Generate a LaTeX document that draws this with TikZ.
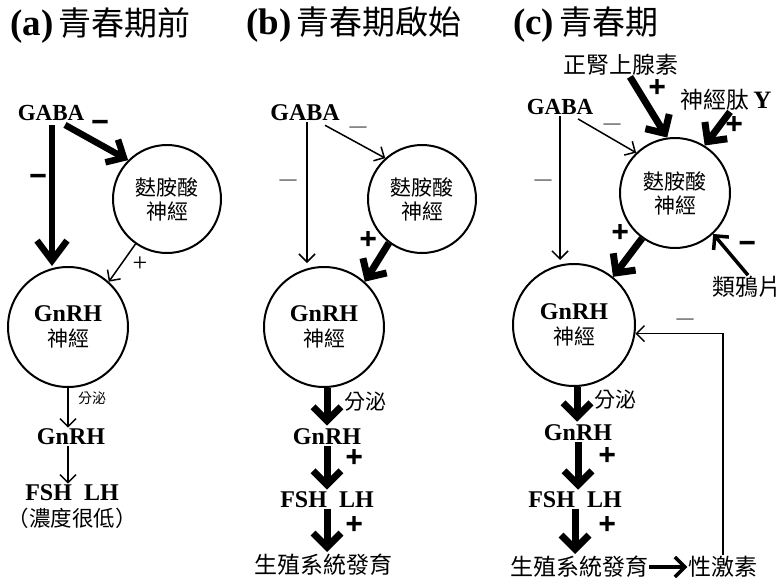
\documentclass[tikz,border=0pt]{standalone}
\usepackage{fontspec}
\setmainfont{Liberation Serif}
\newfontfamily\cjk{Noto Sans CJK TC}
\newfontfamily\heavy[FakeBold=5]{Liberation Sans}
\usetikzlibrary{arrows.meta,calc}
\begin{document}
\begin{tikzpicture}[x=1pt,y=-1pt,
  lat/.style={font=\fontsize{24}{26}\selectfont\bfseries, inner sep=1pt},
  gaba/.style={font=\fontsize{23}{24}\selectfont\bfseries, inner sep=1pt},
  zh/.style={font=\fontsize{23}{24}\selectfont\cjk, inner sep=1pt},
  small/.style={font=\fontsize{14}{14}\selectfont\cjk, inner sep=0pt},
  ttl/.style={font=\fontsize{33}{36}\selectfont\cjk, anchor=west, inner sep=0pt},
  glu/.style={circle, draw, line width=2pt, align=center, inner sep=0pt, font=\fontsize{21}{24}\selectfont\cjk},
  gnrh/.style={circle, draw, line width=2pt, align=center, inner sep=0pt, font=\fontsize{21}{25}\selectfont},
  thinarr/.style={line width=1.5pt, -{Straight Barb[length=8pt,width=16pt]}},
  medarr/.style={line width=3.5pt, -{Straight Barb[length=10pt,width=20pt]}},
  fatarr/.style={line width=7pt, -{Straight Barb[length=14pt,width=28pt]}},
  bigarr/.style={line width=6.5pt, -{Straight Barb[length=20pt,width=30pt]}},
  sgn/.style={font=\fontsize{28}{28}\selectfont\heavy, inner sep=0pt, text height=0.6em, text depth=0pt},
  tsgn/.style={font=\fontsize{26}{26}\selectfont, inner sep=0pt, text height=0.6em, text depth=0pt},
  dsh/.style={font=\fontsize{17}{17}\selectfont, inner sep=0pt, text height=0.3em, text depth=0pt},
]
\useasboundingbox (0,0) rectangle (779,581);

% ---------- panel (a) ----------
\node[ttl] (tA) at (10,25) {{\fontspec{Liberation Serif}\bfseries\fontsize{37}{38}\selectfont (a)}\,青春期前};
\node[gaba] (gabaA) at (51,113) {GABA};
\node[glu, minimum size=108pt] (gluA) at (167,199) {麩胺酸\\神經};
\node[gnrh, minimum size=120pt] (gnrhA) at (68,327) {{\fontsize{24}{26}\selectfont\bfseries GnRH}\\{\cjk 神經}};
\node[small] (secA) at (92,398) {分泌};
\node[lat] (g2A) at (71,437) {GnRH};
\node[lat] (fshA) at (72,493) {FSH\ \ LH};
\node[zh, font=\fontsize{21.5}{24}\selectfont\cjk] (lowA) at (72,518) {（濃度很低）};
\draw[bigarr] ([xshift=1pt,yshift=-3pt]gabaA.south) -- ([xshift=1pt]gabaA.south |- gnrhA.north);
\draw[line width=6.5pt, -{Straight Barb[length=14pt,width=26pt]}] ([xshift=14pt,yshift=-3pt]gabaA.south) -- (gluA.135);
\node[sgn] (mA1) at (38,182) {−};
\node[sgn] (mA2) at (100,128) {−};
\draw[thinarr] (gluA.235) -- (gnrhA.48);
\node[tsgn] (pA) at (140,268) {+};
\draw[thinarr] (gnrhA.south) -- (gnrhA.south |- g2A.north);
\draw[thinarr] (gnrhA.south |- g2A.south) -- (gnrhA.south |- fshA.north);

% ---------- panel (b) ----------
\node[ttl] (tB) at (246,25) {{\fontspec{Liberation Serif}\bfseries\fontsize{37}{38}\selectfont (b)}\,青春期啟始};
\node[gaba, font=\fontsize{24}{24}\selectfont\bfseries] (gabaB) at (305,113) {GABA};
\node[glu, minimum size=108pt] (gluB) at (422,199) {麩胺酸\\神經};
\node[gnrh, minimum size=120pt] (gnrhB) at (324,327) {{\fontsize{24}{26}\selectfont\bfseries GnRH}\\{\cjk 神經}};
\node[zh, font=\fontsize{21}{24}\selectfont\cjk] (secB) at (365,402) {分泌};
\node[lat] (g2B) at (327,437) {GnRH};
\node[lat] (fshB) at (327,500) {FSH\ \ LH};
\node[zh] (devB) at (323,565) {生殖系統發育};
\draw[thinarr, shorten >=3pt] ([xshift=2pt]gabaB.south) -- ([xshift=2pt]gabaB.south |- gnrhB.north);
\node[dsh] (mB1) at (288,183) {—};
\draw[thinarr] ([xshift=20pt,yshift=-3pt]gabaB.south) -- (gluB.132);
\node[dsh] (mB2) at (358,130) {—};
\draw[fatarr] (gluB.233) -- (gnrhB.48);
\node[sgn] (pB1) at (368,245) {+};
\draw[fatarr, shorten >=2pt] ([xshift=3pt]gnrhB.south) -- ([xshift=3pt]gnrhB.south |- g2B.north);
\draw[fatarr, shorten >=1pt] (g2B.south) -- (g2B.south |- fshB.north);
\node[sgn] (pB2) at (354,463) {+};
\draw[fatarr, shorten >=1pt] (fshB.south) -- (fshB.south |- devB.north);
\node[sgn] (pB3) at (354,530) {+};

% ---------- panel (c) ----------
\node[ttl] (tC) at (513,25) {{\fontspec{Liberation Serif}\bfseries\fontsize{37}{38}\selectfont (c)}\,青春期};
\node[zh] (neC) at (621,65) {正腎上腺素};
\node[zh] (npyC) at (726,100) {神經肽\,{\fontspec{Liberation Serif}\bfseries\fontsize{25}{26}\selectfont Y}};
\node[gaba] (gabaC) at (560,107) {GABA};
\node[glu, minimum size=110pt] (gluC) at (675,193) {麩胺酸\\神經};
\node[zh] (opC) at (747,287) {類鴉片};
\node[gnrh, minimum size=122pt] (gnrhC) at (574,325) {{\fontsize{24}{26}\selectfont\bfseries GnRH}\\{\cjk 神經}};
\node[zh, font=\fontsize{21}{24}\selectfont\cjk] (secC) at (615,400) {分泌};
\node[lat] (g2C) at (578,433) {GnRH};
\node[lat] (fshC) at (575,500) {FSH\ \ LH};
\node[zh] (devC) at (579,567) {生殖系統發育};
\node[zh] (sexC) at (723,567) {性激素};
\draw[fatarr] ([xshift=9pt]neC.south) -- (gluC.98);
\node[sgn] (pC1) at (657,93) {+};
\draw[fatarr] ([xshift=4pt]npyC.south) -- (gluC.58);
\node[sgn] (pC2) at (734,130) {+};
\draw[thinarr, shorten >=3pt] (gabaC.south) -- (gabaC.south |- gnrhC.north);
\node[dsh] (mC1) at (543,183) {—};
\draw[thinarr] ([xshift=18pt,yshift=-3pt]gabaC.south) -- (gluC.134);
\node[dsh] (mC2) at (612,127) {—};
\draw[fatarr] (gluC.234) -- (gnrhC.51);
\node[sgn] (pC3) at (620,238) {+};
\draw[medarr] ([xshift=1pt]opC.north) -- (gluC.313);
\node[sgn] (mC3) at (747,249) {−};
\draw[fatarr, shorten >=2pt] ([xshift=3pt]gnrhC.south) -- ([xshift=3pt]gnrhC.south |- g2C.north);
\draw[fatarr, shorten >=1pt] (g2C.south) -- (g2C.south |- fshC.north);
\node[sgn] (pC4) at (607,461) {+};
\draw[fatarr, shorten >=1pt] (fshC.south) -- (fshC.south |- devC.north);
\node[sgn] (pC5) at (607,530) {+};
\draw[medarr] (devC.east) -- (sexC.west);
\draw[thinarr] (sexC.north) |- (gnrhC.352);
\node[dsh] (mC4) at (685,322) {—};
\end{tikzpicture}
\end{document}
